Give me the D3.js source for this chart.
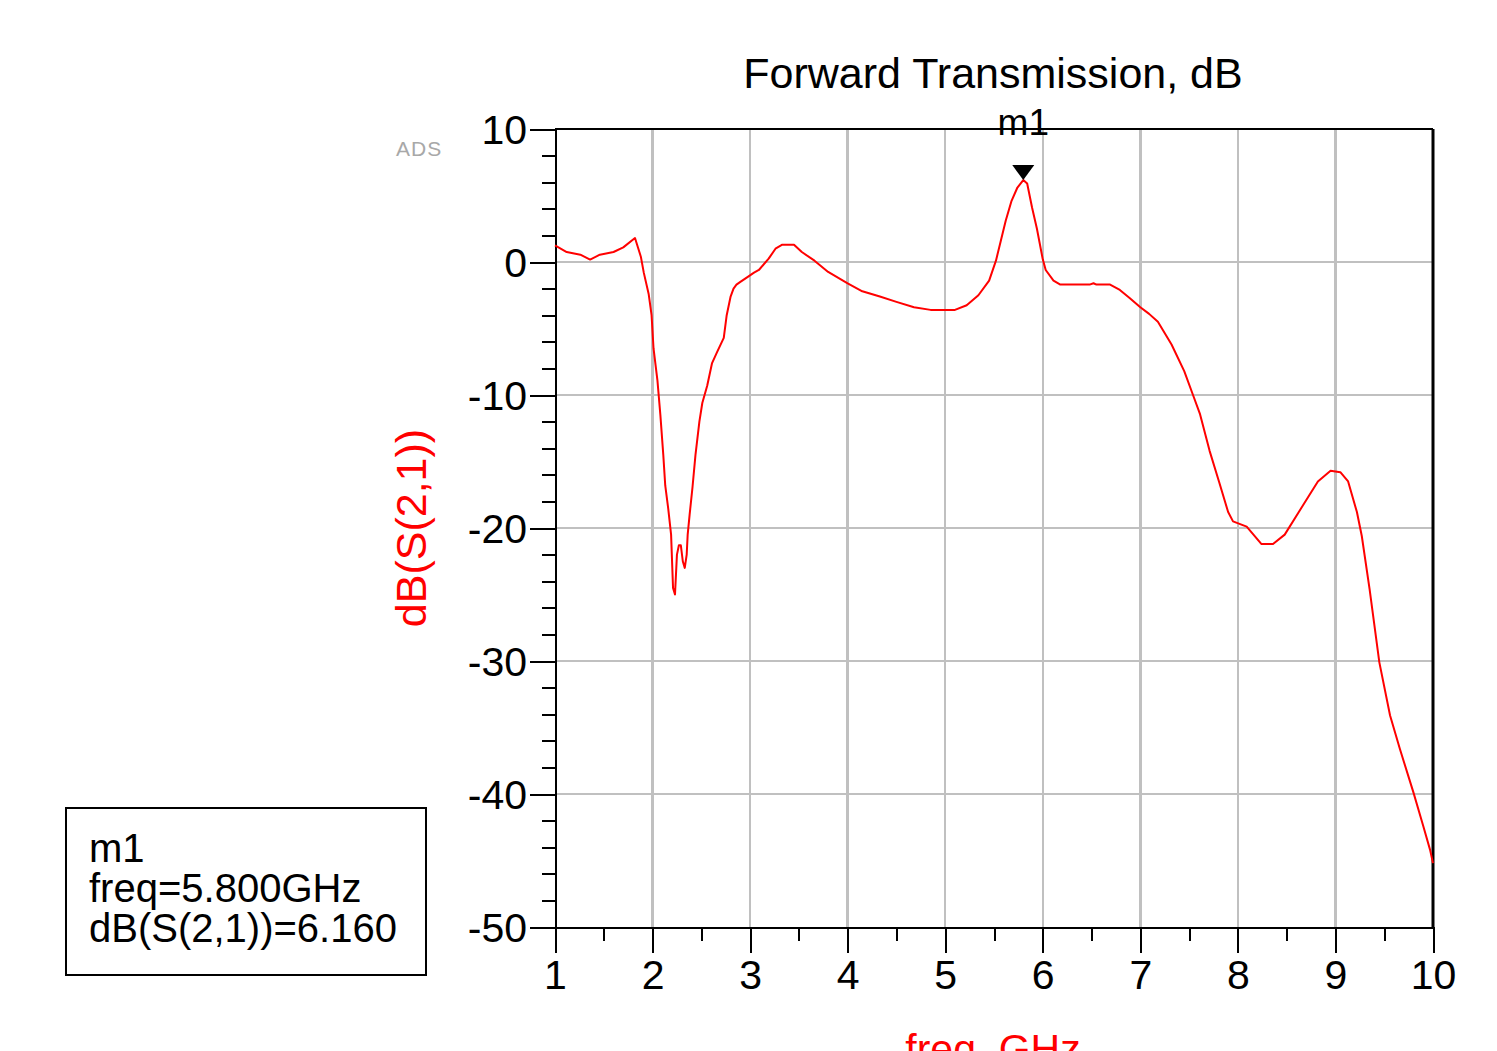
<!DOCTYPE html>
<html>
<head>
<meta charset="utf-8">
<script src="https://cdn.jsdelivr.net/npm/d3@7"></script>
<style>
  body { margin: 0; background: #fff; }
  svg text { font-family: 'Liberation Sans', Arial, sans-serif; }
  .axis path, .axis line { stroke: #000; stroke-width: 2; shape-rendering: crispEdges; }
  .axis text { font-size: 41px; fill: #000; }
  .grid line { stroke: #c0c0c0; stroke-width: 2.5; shape-rendering: crispEdges; }
</style>
</head>
<body>
<svg id="chart" width="1497" height="1051"></svg>
<script>
// dB(S(2,1)) trace
var freq = [
  1.0, 1.12, 1.26, 1.36, 1.46, 1.6, 1.7, 1.82, 1.88, 1.91, 1.96, 1.99,
  2.01, 2.05, 2.08, 2.11, 2.13, 2.16, 2.19, 2.21, 2.23, 2.25, 2.27, 2.29,
  2.31, 2.33, 2.35, 2.36, 2.38, 2.41, 2.44, 2.48, 2.51, 2.56, 2.61, 2.66,
  2.73, 2.76, 2.8, 2.83, 2.86, 2.9, 2.98, 3.04, 3.09, 3.19, 3.26, 3.33,
  3.45, 3.53, 3.66, 3.8, 4.0, 4.15, 4.33, 4.5, 4.68, 4.85, 5.1, 5.22,
  5.34, 5.45, 5.52, 5.57, 5.62, 5.68, 5.74, 5.8, 5.84, 5.89, 5.94, 6.0,
  6.03, 6.11, 6.18, 6.48, 6.52, 6.55, 6.69, 6.79, 6.89, 7.0, 7.09, 7.18,
  7.32, 7.45, 7.54, 7.61, 7.71, 7.81, 7.9, 7.95, 8.09, 8.24, 8.36, 8.48,
  8.65, 8.82, 8.95, 9.05, 9.13, 9.22, 9.27, 9.35, 9.45, 9.56, 9.66, 9.8,
  9.9, 9.97, 10.0
]
var s21 = [
  1.25, 0.75, 0.55, 0.18, 0.55, 0.75, 1.1, 1.8, 0.4, -0.8, -2.4, -4.0,
  -6.5, -8.9, -11.5, -14.5, -16.8, -18.5, -20.5, -24.5, -25.0, -22.0, -21.3, -21.3,
  -22.5, -23.0, -22.0, -20.5, -19.0, -16.9, -14.5, -12.0, -10.6, -9.3, -7.6, -6.8,
  -5.7, -4.0, -2.6, -2.0, -1.7, -1.5, -1.1, -0.8, -0.6, 0.25, 1.0, 1.3,
  1.3, 0.75, 0.1, -0.75, -1.6, -2.2, -2.6, -3.0, -3.4, -3.6, -3.6, -3.25,
  -2.5, -1.4, 0.1, 1.6, 3.1, 4.6, 5.6, 6.16, 5.9, 4.1, 2.5, 0.2,
  -0.6, -1.4, -1.7, -1.7, -1.6, -1.7, -1.7, -2.1, -2.7, -3.4, -3.9, -4.5,
  -6.2, -8.2, -10.0, -11.4, -14.2, -16.6, -18.8, -19.5, -19.9, -21.2, -21.2, -20.5,
  -18.5, -16.5, -15.7, -15.8, -16.5, -18.8, -20.6, -24.6, -30.1, -34.1, -36.6, -39.9,
  -42.4, -44.2, -45.2
]
var xTicks = [1, 2, 3, 4, 5, 6, 7, 8, 9, 10]
var yTicks = [10, 0, -10, -20, -30, -40, -50]
var marker = {name: 'm1', freq: 5.8, value: 6.16}

;(function () {
  var svg = d3.select('#chart')
  var box = {left: 555, right: 1433, top: 129, bottom: 927}

  var x = d3.scaleLinear().domain([1, 10]).range([box.left, box.right])
  var y = d3.scaleLinear().domain([-50, 10]).range([box.bottom, box.top])

  /*
      grid
  */
  var grid = svg.append('g').classed('grid', true)
  grid.selectAll('.gx')
      .data(xTicks.slice(1, -1))
      .enter().append('line')
      .attr('x1', d => x(d)).attr('x2', d => x(d))
      .attr('y1', box.top).attr('y2', box.bottom)
  grid.selectAll('.gy')
      .data(yTicks.slice(1, -1))
      .enter().append('line')
      .attr('x1', box.left).attr('x2', box.right)
      .attr('y1', d => y(d)).attr('y2', d => y(d))

  /*
      frame: top and right edges
  */
  svg.append('line')
      .attr('x1', box.left).attr('x2', box.right)
      .attr('y1', box.top).attr('y2', box.top)
      .attr('stroke', '#000').attr('stroke-width', 2)
  svg.append('line')
      .attr('x1', box.right).attr('x2', box.right)
      .attr('y1', box.top).attr('y2', box.bottom)
      .attr('stroke', '#000').attr('stroke-width', 3)

  /*
      axes, minor ticks first
  */
  svg.append('g').classed('axis', true)
      .attr('transform', `translate(${box.left},0)`)
      .call(d3.axisLeft(y).tickValues(d3.range(-50, 10.1, 2)).tickSize(13).tickFormat('').tickSizeOuter(0))
  svg.append('g').classed('axis', true)
      .attr('transform', `translate(0,${box.bottom})`)
      .call(d3.axisBottom(x).tickValues(d3.range(1, 10.01, 0.5)).tickSize(14).tickFormat('').tickSizeOuter(0))

  // ADS prints a plain hyphen for negatives
  var yAxis = svg.append('g').classed('axis', true)
      .attr('transform', `translate(${box.left},0)`)
      .call(d3.axisLeft(y).tickValues(yTicks).tickSize(25).tickPadding(3).tickSizeOuter(0)
        .tickFormat(d => String(d)))
  yAxis.selectAll('text').attr('dy', '0.36em')

  var xAxis = svg.append('g').classed('axis', true)
      .attr('transform', `translate(0,${box.bottom})`)
      .call(d3.axisBottom(x).tickValues(xTicks).tickSize(26).tickPadding(6).tickSizeOuter(0))
  xAxis.selectAll('text').attr('dy', '0.72em')

  /*
      trace
  */
  var line = d3.line()
      .x((d, i) => x(freq[i]))
      .y(d => y(d))
  svg.append('path')
      .datum(s21)
      .attr('d', line)
      .attr('fill', 'none')
      .attr('stroke', '#ff0000')
      .attr('stroke-width', 2)
      .attr('stroke-linejoin', 'round')

  // marker
  var mx = x(marker.freq)
  var my = y(marker.value)
  svg.append('path')
      .attr('d', `M${mx - 11},${my - 15}L${mx + 11},${my - 15}L${mx},${my}Z`)
      .attr('fill', '#000')
  svg.append('text')
      .attr('x', mx).attr('y', 135)
      .attr('text-anchor', 'middle')
      .style('font-size', '37px')
      .text(marker.name)

  /*
      labels
  */
  svg.append('text')
      .attr('x', 993).attr('y', 88)
      .attr('text-anchor', 'middle')
      .style('font-size', '43px')
      .text('Forward Transmission, dB')

  svg.append('text')
      .attr('transform', 'translate(426,528) rotate(-90)')
      .attr('text-anchor', 'middle')
      .attr('fill', '#ff0000')
      .style('font-size', '43px')
      .text('dB(S(2,1))')

  // runs off the bottom edge, as in the original export
  svg.append('text')
      .attr('x', 993).attr('y', 1063)
      .attr('text-anchor', 'middle')
      .attr('fill', '#ff0000')
      .style('font-size', '41px')
      .text('freq, GHz')

  svg.append('text')
      .attr('x', 396).attr('y', 156)
      .attr('fill', '#a8a8a8')
      .style('font-size', '21px')
      .style('letter-spacing', '1px')
      .text('ADS')

  // marker readout box
  var lg = svg.append('g').attr('transform', 'translate(66,808)')
  lg.append('rect')
      .attr('width', 360).attr('height', 167)
      .attr('fill', '#fff').attr('stroke', '#000').attr('stroke-width', 2)
  lg.selectAll('text')
      .data([marker.name, `freq=${marker.freq.toFixed(3)}GHz`, `dB(S(2,1))=${marker.value.toFixed(3)}`])
      .enter().append('text')
      .attr('x', 23)
      .attr('y', (d, i) => 54 + i * 40)
      .style('font-size', '40px')
      .text(d => d)
})()
</script>
</body>
</html>
